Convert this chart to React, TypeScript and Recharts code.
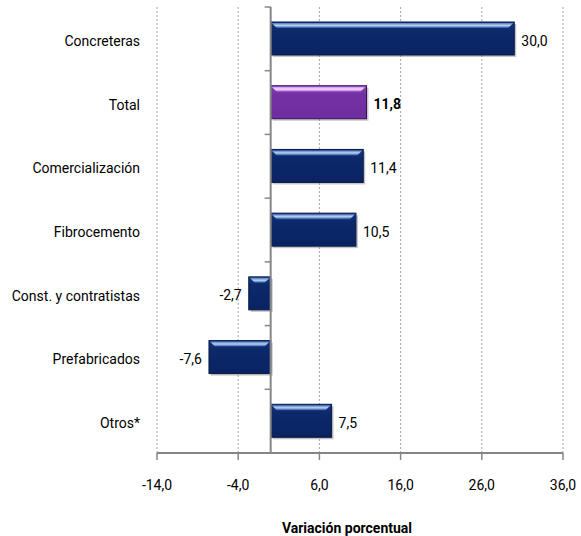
import React from 'react';
import {
  Bar,
  BarChart,
  CartesianGrid,
  Cell,
  LabelList,
  ReferenceLine,
  XAxis,
  YAxis,
} from 'recharts';

const categories = [
  'Concreteras',
  'Total',
  'Comercialización',
  'Fibrocemento',
  'Const. y contratistas',
  'Prefabricados',
  'Otros*',
];
const values = [30.0, 11.8, 11.4, 10.5, -2.7, -7.6, 7.5];
const xTicks = [-14, -4, 6, 16, 26, 36];
const highlighted = 'Total';

const W = 581;
const H = 536;
const M = { top: 7, right: 18, left: 0, bottom: 0 };
const Y_AXIS_W = 157;
const X_AXIS_H = 83;
const X_MIN = -14;
const X_MAX = 36;

const plotLeft = M.left + Y_AXIS_W;
const plotWidth = W - plotLeft - M.right;
const plotHeight = H - M.top - M.bottom - X_AXIS_H;
const zeroX = plotLeft + ((0 - X_MIN) / (X_MAX - X_MIN)) * plotWidth;
const bandH = plotHeight / categories.length;

const FONT = '"Liberation Sans Narrow", "Roboto", sans-serif';
const FS = 14;
const AXIS_GRAY = '#868686';

const data = categories.map((name, i) => ({ name, value: values[i] }));

const fmt = (v: number) => v.toFixed(1).replace('.', ',');

function BevelBar(props: any) {
  const { x, y, width, height, payload } = props;
  const x0 = Math.min(x, x + width);
  const w = Math.abs(width);
  const isTotal = payload?.name === highlighted;
  const grad = isTotal ? 'url(#gradPurple)' : 'url(#gradNavy)';
  const edge = isTotal ? '#3c1060' : '#061a48';
  const hl = isTotal ? 'url(#hlPurple)' : 'url(#hlNavy)';
  const b = Math.min(5, w / 3);
  return (
    <g>
      <rect x={x0 + 2} y={y + 2} width={w} height={height} fill="#7f7f7f" opacity={0.45} />
      <rect x={x0} y={y} width={w} height={height} fill={grad} stroke={edge} strokeWidth={1} />
      <polygon
        points={`${x0 + 1},${y + 1} ${x0 + w - 1},${y + 1} ${x0 + w - 1 - b},${y + 6} ${x0 + 1 + b},${y + 6}`}
        fill={hl}
      />
    </g>
  );
}

function ValueLabel(props: any) {
  const { x, y, width, height, value, index } = props;
  const end = x + width;
  const neg = value < 0;
  const isTotal = categories[index] === highlighted;
  return (
    <text
      x={neg ? end - 7 : end + 7}
      y={y + height / 2 + 2}
      textAnchor={neg ? 'end' : 'start'}
      dominantBaseline="central"
      fontFamily={FONT}
      fontSize={FS}
      fontWeight={isTotal ? 'bold' : 'normal'}
      fill="#000"
    >
      {fmt(value)}
    </text>
  );
}

function CategoryTick(props: any) {
  const { x, y, payload, index } = props;
  const top = y - bandH / 2;
  return (
    <g>
      <line x1={zeroX - 6} x2={zeroX} y1={top} y2={top} stroke={AXIS_GRAY} strokeWidth={1.5} />
      {index === categories.length - 1 && (
        <line x1={zeroX - 6} x2={zeroX} y1={top + bandH} y2={top + bandH} stroke={AXIS_GRAY} strokeWidth={1.5} />
      )}
      <text x={x} y={y + 2} textAnchor="end" dominantBaseline="central" fontFamily={FONT} fontSize={FS} fill="#000">
        {payload.value}
      </text>
    </g>
  );
}

export default function App() {
  return (
    <div style={{ position: 'absolute', left: 0, top: 0, background: '#fff' }}>
      <BarChart width={W} height={H} data={data} layout="vertical" margin={M}>
        <defs>
          <linearGradient id="gradNavy" x1="0" y1="0" x2="0" y2="1">
            <stop offset="0%" stopColor="#143a85" />
            <stop offset="25%" stopColor="#0c296b" />
            <stop offset="100%" stopColor="#0a2362" />
          </linearGradient>
          <linearGradient id="hlNavy" x1="0" y1="0" x2="0" y2="1">
            <stop offset="0%" stopColor="#4f78bf" />
            <stop offset="50%" stopColor="#b9d2f2" />
            <stop offset="100%" stopColor="#2a4f98" />
          </linearGradient>
          <linearGradient id="gradPurple" x1="0" y1="0" x2="0" y2="1">
            <stop offset="0%" stopColor="#8a45b8" />
            <stop offset="25%" stopColor="#7431a4" />
            <stop offset="100%" stopColor="#6e2e9e" />
          </linearGradient>
          <linearGradient id="hlPurple" x1="0" y1="0" x2="0" y2="1">
            <stop offset="0%" stopColor="#c48ae6" />
            <stop offset="50%" stopColor="#f6dcff" />
            <stop offset="100%" stopColor="#9a58c8" />
          </linearGradient>
        </defs>
        <CartesianGrid horizontal={false} stroke="#a6a6a6" strokeDasharray="2 2" />
        <XAxis
          type="number"
          domain={[X_MIN, X_MAX]}
          ticks={xTicks}
          interval={0}
          height={X_AXIS_H}
          tickFormatter={fmt}
          stroke={AXIS_GRAY}
          axisLine={{ stroke: AXIS_GRAY, strokeWidth: 2 }}
          tickLine={{ stroke: AXIS_GRAY, strokeWidth: 1.5 }}
          tickSize={7}
          tickMargin={20}
          tick={{ fill: '#000', fontFamily: FONT, fontSize: FS }}
          label={{
            value: 'Variación porcentual',
            position: 'insideBottom',
            offset: 3,
            dx: -13,
            fill: '#000',
            fontFamily: FONT,
            fontSize: FS,
            fontWeight: 'bold',
          }}
        />
        <YAxis
          type="category"
          dataKey="name"
          width={Y_AXIS_W}
          axisLine={false}
          tickLine={false}
          tickSize={0}
          tickMargin={17}
          interval={0}
          tick={<CategoryTick />}
        />
        <ReferenceLine x={0} stroke={AXIS_GRAY} strokeWidth={2} />
        <Bar dataKey="value" barSize={33} shape={<BevelBar />} isAnimationActive={false}>
          {data.map((d) => (
            <Cell key={d.name} />
          ))}
          <LabelList dataKey="value" content={<ValueLabel />} />
        </Bar>
      </BarChart>
    </div>
  );
}
